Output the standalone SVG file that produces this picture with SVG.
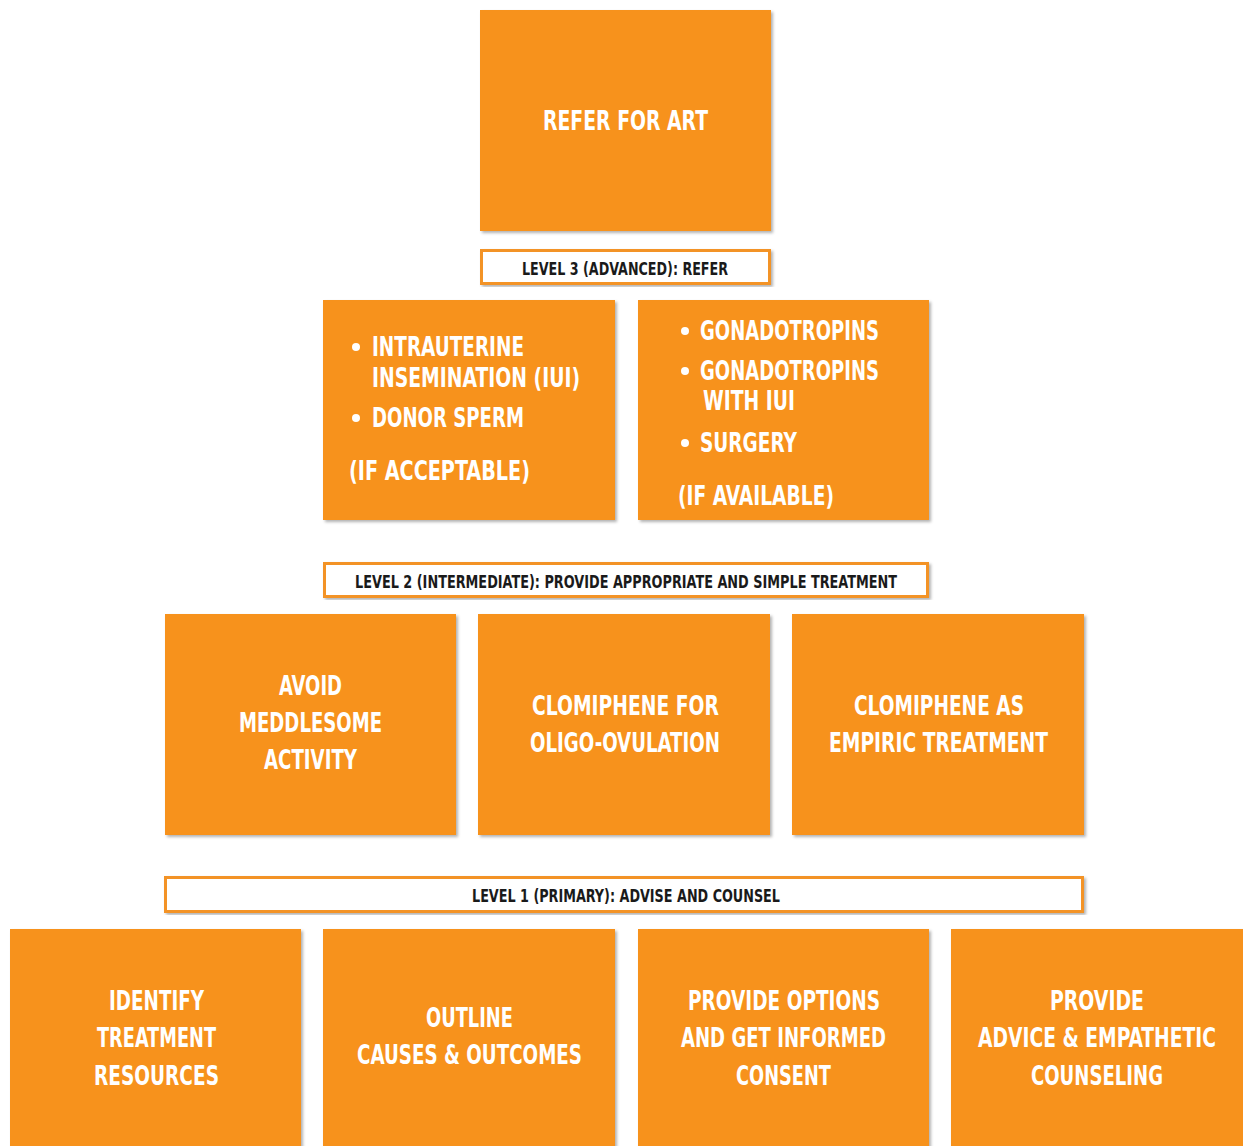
<svg xmlns="http://www.w3.org/2000/svg" width="1243" height="1146" viewBox="0 0 1243 1146">
<defs>
<filter id="sh" x="-5%" y="-5%" width="115%" height="115%">
<feDropShadow dx="2" dy="2" stdDeviation="1.5" flood-color="#000" flood-opacity="0.3"/>
</filter>
<style>
.box{fill:#F7921E;filter:url(#sh)}
.lab{fill:#fff;stroke:#F39325;stroke-width:3;filter:url(#sh)}
.t{font-family:"Liberation Sans Narrow","DejaVu Sans Condensed","DejaVu Sans",sans-serif;font-stretch:condensed;font-weight:bold;fill:#fff;font-size:26px}
.c{text-anchor:middle}
.l{font-family:"Liberation Sans Narrow","DejaVu Sans Condensed","DejaVu Sans",sans-serif;font-stretch:condensed;font-weight:bold;fill:#1a1a1a;font-size:17px;text-anchor:middle}
</style>
</defs>
<rect width="1243" height="1146" fill="#fff"/>
<g id="connectors"></g>
<g id="refer-art"><rect class="box" x="480" y="10" width="291" height="221"/>
<text class="t c" x="625.5" y="130" textLength="165" lengthAdjust="spacingAndGlyphs">REFER FOR ART</text></g>
<g id="level3"><rect class="lab" x="481.5" y="250.5" width="288" height="33"/>
<text class="l" x="625" y="275" textLength="206" lengthAdjust="spacingAndGlyphs">LEVEL 3 (ADVANCED): REFER</text></g>
<g id="iui"><rect class="box" x="323" y="300" width="292" height="220"/>
<circle cx="356" cy="347" r="4" fill="#fff"/>
<text class="t" x="372" y="356" textLength="152" lengthAdjust="spacingAndGlyphs">INTRAUTERINE</text>
<text class="t" x="372" y="387" textLength="208" lengthAdjust="spacingAndGlyphs">INSEMINATION (IUI)</text>
<circle cx="356" cy="418" r="4" fill="#fff"/>
<text class="t" x="372" y="427" textLength="152" lengthAdjust="spacingAndGlyphs">DONOR SPERM</text>
<text class="t" x="349" y="480" textLength="181" lengthAdjust="spacingAndGlyphs">(IF ACCEPTABLE)</text></g>
<g id="gonado"><rect class="box" x="638" y="300" width="291" height="220"/>
<circle cx="685" cy="331" r="4" fill="#fff"/>
<text class="t" x="700" y="340" textLength="179" lengthAdjust="spacingAndGlyphs">GONADOTROPINS</text>
<circle cx="685" cy="371" r="4" fill="#fff"/>
<text class="t" x="700" y="380" textLength="179" lengthAdjust="spacingAndGlyphs">GONADOTROPINS</text>
<text class="t" x="703" y="410" textLength="92" lengthAdjust="spacingAndGlyphs">WITH IUI</text>
<circle cx="685" cy="443" r="4" fill="#fff"/>
<text class="t" x="700" y="452" textLength="97" lengthAdjust="spacingAndGlyphs">SURGERY</text>
<text class="t" x="678" y="505" textLength="156" lengthAdjust="spacingAndGlyphs">(IF AVAILABLE)</text></g>
<g id="level2"><rect class="lab" x="324.5" y="563.5" width="603" height="33"/>
<text class="l" x="626" y="588" textLength="542" lengthAdjust="spacingAndGlyphs">LEVEL 2 (INTERMEDIATE): PROVIDE APPROPRIATE AND SIMPLE TREATMENT</text></g>
<g id="avoid"><rect class="box" x="165" y="614" width="291" height="221"/>
<text class="t c" x="310.5" y="695" textLength="63" lengthAdjust="spacingAndGlyphs">AVOID</text>
<text class="t c" x="310.5" y="732" textLength="143" lengthAdjust="spacingAndGlyphs">MEDDLESOME</text>
<text class="t c" x="310.5" y="769" textLength="93" lengthAdjust="spacingAndGlyphs">ACTIVITY</text></g>
<g id="clomiphene-oligo"><rect class="box" x="478" y="614" width="292" height="221"/>
<text class="t c" x="625.5" y="715" textLength="187" lengthAdjust="spacingAndGlyphs">CLOMIPHENE FOR</text>
<text class="t c" x="625" y="752" textLength="190" lengthAdjust="spacingAndGlyphs">OLIGO-OVULATION</text></g>
<g id="clomiphene-empiric"><rect class="box" x="792" y="614" width="292" height="221"/>
<text class="t c" x="939" y="715" textLength="170" lengthAdjust="spacingAndGlyphs">CLOMIPHENE AS</text>
<text class="t c" x="938.5" y="752" textLength="219" lengthAdjust="spacingAndGlyphs">EMPIRIC TREATMENT</text></g>
<g id="level1"><rect class="lab" x="165.5" y="877.5" width="917" height="34"/>
<text class="l" x="626" y="902" textLength="308" lengthAdjust="spacingAndGlyphs">LEVEL 1 (PRIMARY): ADVISE AND COUNSEL</text></g>
<g id="identify"><rect class="box" x="10" y="929" width="291" height="225"/>
<text class="t c" x="156.5" y="1010" textLength="95" lengthAdjust="spacingAndGlyphs">IDENTIFY</text>
<text class="t c" x="156.5" y="1047" textLength="119" lengthAdjust="spacingAndGlyphs">TREATMENT</text>
<text class="t c" x="156.5" y="1085" textLength="125" lengthAdjust="spacingAndGlyphs">RESOURCES</text></g>
<g id="outline"><rect class="box" x="323" y="929" width="292" height="225"/>
<text class="t c" x="469.5" y="1027" textLength="87" lengthAdjust="spacingAndGlyphs">OUTLINE</text>
<text class="t c" x="469.5" y="1064" textLength="225" lengthAdjust="spacingAndGlyphs">CAUSES &amp; OUTCOMES</text></g>
<g id="options"><rect class="box" x="638" y="929" width="291" height="225"/>
<text class="t c" x="784" y="1010" textLength="192" lengthAdjust="spacingAndGlyphs">PROVIDE OPTIONS</text>
<text class="t c" x="783.5" y="1047" textLength="205" lengthAdjust="spacingAndGlyphs">AND GET INFORMED</text>
<text class="t c" x="783.5" y="1085" textLength="95" lengthAdjust="spacingAndGlyphs">CONSENT</text></g>
<g id="advice"><rect class="box" x="951" y="929" width="292" height="225"/>
<text class="t c" x="1097" y="1010" textLength="94" lengthAdjust="spacingAndGlyphs">PROVIDE</text>
<text class="t c" x="1097" y="1047" textLength="238" lengthAdjust="spacingAndGlyphs">ADVICE &amp; EMPATHETIC</text>
<text class="t c" x="1097" y="1085" textLength="132" lengthAdjust="spacingAndGlyphs">COUNSELING</text></g>
</svg>
